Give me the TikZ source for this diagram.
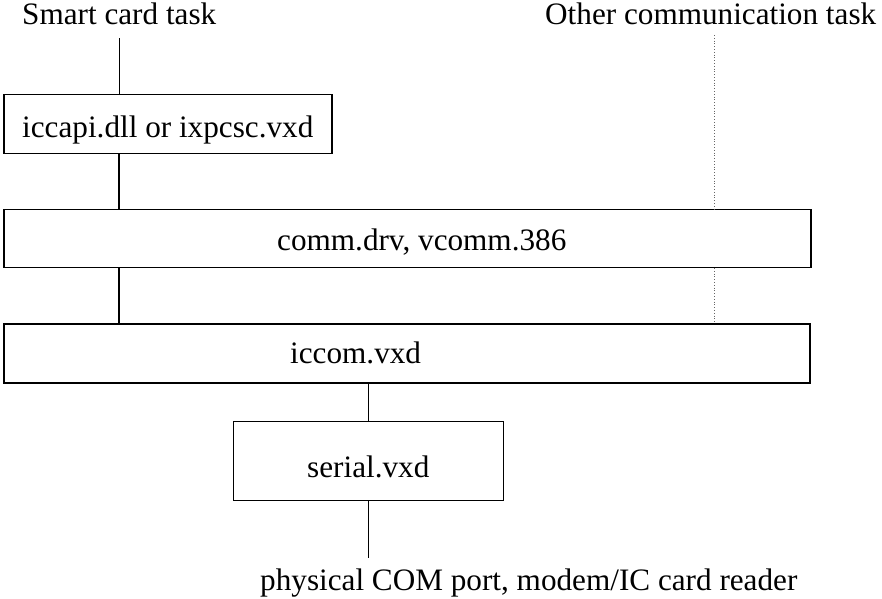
\documentclass[tikz,border=0pt]{standalone}
\usepackage{fontspec}
\setmainfont{Liberation Serif}
\begin{document}
\begin{tikzpicture}[x=1pt,y=-1pt,
  lbl/.style={anchor=base west,inner sep=0pt,font=\fontsize{31.2}{36}\selectfont},
  layer/.style={draw,rectangle,inner sep=0pt},
  heavy/.style={line width=1.9pt},
  light/.style={line width=1.3pt},
  link/.style={line width=1.6pt},
  other/.style={draw=gray!80!black,line width=0.8pt,dotted}]
\useasboundingbox (0,0) rectangle (882,598);

% software layers
\node[layer,heavy,minimum width=328pt,minimum height=59pt] (api) at (168,124) {};
\node[layer,light,minimum width=807pt,minimum height=58pt] (comm) at (407.5,238.3) {};
\node[layer,heavy,minimum width=806pt,minimum height=59pt] (iccom) at (407,353.5) {};
\node[layer,light,minimum width=270pt,minimum height=79pt] (serial) at (368.5,461.3) {};

% captions
\node[lbl] (tsc) at (22,24) {Smart card task};
\node[lbl] (toc) at (545,24) {Other communication task};
\node[lbl] (tapi) at (22,137) {iccapi.dll or ixpcsc.vxd};
\node[lbl] (tcomm) at (277,250) {comm.drv, vcomm.386};
\node[lbl] (ticcom) at (290,363) {iccom.vxd};
\node[lbl] (tserial) at (307,477) {serial.vxd};
\node[lbl] (tphys) at (260,590) {physical COM port, modem/IC card reader};

% free ends of the connectors
\coordinate (sc) at (119,38);
\coordinate (oc) at (714,35);
\coordinate (phys) at (368.5,558);

% smart card path
\draw[line width=1pt] (sc) -- (sc |- api.north);
\draw[line width=1.1pt] (api.south -| sc) -- (comm.north -| sc);
\draw[heavy] (comm.south -| sc) -- (iccom.north -| sc);
\draw[light] (iccom.south -| serial.north) -- (serial.north);
\draw[link] (serial.south) -- (phys);

% other communication path
\draw[other] (oc) -- (oc |- comm.north);
\draw[other] (comm.south -| oc) -- (iccom.north -| oc);
\end{tikzpicture}
\end{document}
